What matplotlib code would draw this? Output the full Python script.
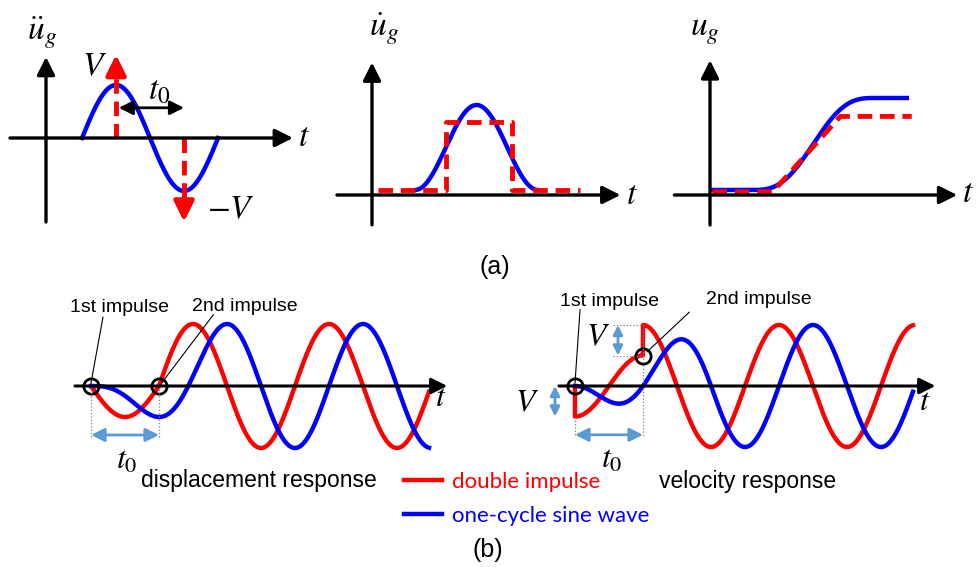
import numpy as np
import matplotlib.pyplot as plt

plt.rcParams['mathtext.fontset'] = 'stix'
plt.rcParams['font.family'] = ['Liberation Sans', 'DejaVu Sans']

# ---- values (time in natural periods T) ----
T = 1.0                 # natural period of the structure
t0 = 0.5 * T            # interval between the two impulses
V = 0.5                 # impulse velocity (steady amplitude = 2V)
sine_start = 0.265      # start of the one-cycle sine in (a) acceleration
vel_start = 0.35        # start of the velocity bell in (a)
rect_edges = [0.05, 0.6, 1.14, 1.69]    # double impulse velocity: step times
rect_height = 0.8
disp_start = 0.34       # start of the S-shaped displacement in (a)
ramp = [0.02, 0.51, 1.06, 1.64]         # double impulse displacement: knots
ramp_level = 0.80
resp_end = 2.485        # end of response curves in (b), in T

labels = ['double impulse', 'one-cycle sine wave']

BLUE = '#0000ff'
RED = '#ff0000'
LBLUE = '#5b9bd5'
W, H = 977, 567
fig = plt.figure(figsize=(W / 100, H / 100), dpi=100)


def panel(ox, oy, sx, sy, box):
    l, t, r, b = box
    ax = fig.add_axes([l / W, 1 - b / H, (r - l) / W, (b - t) / H])
    ax.set_xlim((l - ox) / sx, (r - ox) / sx)
    ax.set_ylim((oy - b) / sy, (oy - t) / sy)
    ax.axis('off')
    return ax


def arrow(ax, start, end, color='k', lw=2.4, ms=18, style='-|>,head_length=0.6,head_width=0.3'):
    ax.annotate('', xy=end, xytext=start,
                arrowprops=dict(arrowstyle=style, color=color, lw=lw,
                                shrinkA=0, shrinkB=0, mutation_scale=ms))


def red_dash_arrow(ax, x, y_end, head):
    ax.plot([x, x], [0, y_end - head], color=RED, lw=3.5, dashes=(3, 1.6), clip_on=False)
    arrow(ax, (x, y_end - head * 1.05), (x, y_end), color=RED, lw=3.5, ms=20)


def math(ax, x, y, s, size=24, **kw):
    ax.text(x, y, s, fontsize=size, ha='center', va='center', **kw)


DBL = '<|-|>,head_length=0.8,head_width=0.4'

# ---------------- (a) acceleration ----------------
ax1 = panel(46, 138, 136, 53, (0, 20, 320, 235))
tau = np.linspace(0, 1, 300)
arrow(ax1, (-0.265, 0), (1.816, 0))
arrow(ax1, (0, -1.585), (0, 1.53))
ax1.plot(sine_start + tau * T, np.sin(2 * np.pi * tau), color=BLUE, lw=3.2, clip_on=False)
red_dash_arrow(ax1, sine_start + 0.25 * T, 1.57, 0.22)
red_dash_arrow(ax1, sine_start + 0.75 * T, -1.58, -0.22)
arrow(ax1, (sine_start + 0.27 * T, 0.57), (sine_start + 0.75 * T, 0.57), lw=2,
      ms=14, style='<|-|>,head_length=0.6,head_width=0.3')
math(ax1, 0.36, 1.34, r'$V$')
math(ax1, 1.36, -1.36, r'$-V$')
math(ax1, 0.83, 0.88, r'$t_0$')
math(ax1, 1.9, 0.0, r'$t$')
math(ax1, -0.03, 1.98, r'$\ddot{u}_g$')

# ---------------- (a) velocity ----------------
ax2 = panel(372, 190, 123, 85, (330, 20, 650, 235))
g2 = -5 / 85
arrow(ax2, (-0.285, g2), (2.02, g2))
arrow(ax2, (0, -0.41), (0, 1.5))
ax2.plot(vel_start + tau, (1 - np.cos(2 * np.pi * tau)) / 2, color=BLUE, lw=3.2, clip_on=False)
rx = [rect_edges[0], rect_edges[1], rect_edges[1], rect_edges[2], rect_edges[2], rect_edges[3]]
ry = [0, 0, rect_height, rect_height, 0, 0]
ax2.plot(rx, ry, color=RED, lw=3.5, dashes=(3, 1.6), clip_on=False)
math(ax2, 2.11, g2, r'$t$')
math(ax2, 0.1, 1.9, r'$\dot{u}_g$')

# ---------------- (a) displacement ----------------
ax3 = panel(710, 190, 123, 92, (660, 20, 977, 235))
g3 = -5 / 92
arrow(ax3, (-0.29, g3), (2.01, g3))
arrow(ax3, (0, -0.38), (0, 1.41))
s_curve = tau - np.sin(2 * np.pi * tau) / (2 * np.pi)
bx = np.concatenate([[0.02], disp_start + tau, [1.6]])
by = np.concatenate([[0], s_curve, [1]])
ax3.plot(bx, by, color=BLUE, lw=3.2, clip_on=False)
ax3.plot(ramp, [-0.02, -0.02, ramp_level, ramp_level], color=RED, lw=3.5,
         dashes=(3, 1.6), clip_on=False)
math(ax3, 2.1, g3 + 0.02, r'$t$')
math(ax3, -0.04, 1.72, r'$u_g$')

# ---------------- (b) responses ----------------
tt = np.linspace(0, resp_end, 1500)
w = 2 * np.pi / T
disp_red = np.where(tt < t0, -V * np.sin(w * tt), -2 * V * np.sin(w * tt))
disp_blue = np.where(tt < T, (w * tt * np.cos(w * tt) - np.sin(w * tt)) / (2 * np.pi),
                     np.cos(w * (tt - T)))
vel_red = np.where(tt < t0, -V * np.cos(w * tt), -2 * V * np.cos(w * tt))
vel_blue = np.where(tt < T, -tt * np.sin(w * tt), -np.sin(w * (tt - T)))

axL = panel(91, 386, 136, 62, (55, 285, 460, 505))
axR = panel(575, 386, 136, 61, (500, 285, 977, 505))

# displacement
arrow(axL, (-0.118, 0), (2.62, 0), lw=2.2, ms=16)
hr, = axL.plot(tt, disp_red, color=RED, lw=3.2, clip_on=False, label=labels[0])
hb, = axL.plot(tt, disp_blue, color=BLUE, lw=3.2, clip_on=False, label=labels[1])
axL.plot([0, t0], [0, 0], 'o', ms=11, mfc='none', mec='k', mew=2, clip_on=False)
for x in (0, t0):
    axL.plot([x, x], [0, -0.83], ':', color='#808080', lw=0.9)
arrow(axL, (0, -0.79), (t0, -0.79), color=LBLUE, lw=2, ms=10, style=DBL)
axL.plot([0.0, 0.088], [0.05, 1.11], color='k', lw=0.8)
axL.plot([0.52, 0.9], [0.05, 1.15], color='k', lw=0.8)
axL.text(0.21, 1.26, '1st impulse', fontsize=14, ha='center', va='center')
axL.text(1.13, 1.28, '2nd impulse', fontsize=14, ha='center', va='center')
math(axL, 0.265, -1.2, r'$t_0$', size=23)
math(axL, 2.57, -0.2, r'$t$', size=23)
axL.text(1.235, -1.53, 'displacement response', fontsize=16.5, ha='center', va='center')

# velocity
arrow(axR, (-0.118, 0), (2.65, 0), lw=2.2, ms=16)
vx = np.concatenate([[0], tt])
axR.plot(vx, np.concatenate([[0], vel_red]), color=RED, lw=3.2, clip_on=False)
axR.plot(tt, vel_blue, color=BLUE, lw=3.2, clip_on=False)
axR.plot([0, t0], [0, V], 'o', ms=11, mfc='none', mec='k', mew=2, clip_on=False)
axR.plot([0, 0], [-V, -0.84], ':', color='#808080', lw=0.9)
axR.plot([t0, t0], [2 * V, -0.84], ':', color='#808080', lw=0.9)
axR.plot([0.28, t0], [2 * V, 2 * V], ':', color='#808080', lw=0.9)
axR.plot([0.28, t0], [V, V], ':', color='#808080', lw=0.9)
arrow(axR, (0.316, V), (0.316, 2 * V), color=LBLUE, lw=2, ms=7, style=DBL)
arrow(axR, (-0.147, 0), (-0.147, -V), color=LBLUE, lw=2, ms=7, style=DBL)
arrow(axR, (0, -0.8), (t0, -0.8), color=LBLUE, lw=2, ms=10, style=DBL)
axR.plot([0.0, 0.037], [0.05, 1.25], color='k', lw=0.8)
axR.plot([0.53, 0.84], [0.56, 1.21], color='k', lw=0.8)
axR.text(0.257, 1.38, '1st impulse', fontsize=14, ha='center', va='center')
axR.text(1.35, 1.41, '2nd impulse', fontsize=14, ha='center', va='center')
math(axR, 0.17, 0.8, r'$V$', size=23)
math(axR, -0.35, -0.28, r'$V$', size=23)
math(axR, 0.27, -1.21, r'$t_0$', size=23)
math(axR, 2.57, -0.26, r'$t$', size=23)
axR.text(1.27, -1.56, 'velocity response', fontsize=16.5, ha='center', va='center')

fig.legend(handles=[hr, hb], loc='upper left', bbox_to_anchor=(384 / W, 1 - 452 / H),
           frameon=False, handlelength=1.7, handletextpad=0.45, labelspacing=0.62,
           labelcolor='linecolor', prop={'family': 'Lato', 'size': 16})
fig.text(495 / W, 1 - 267 / H, '(a)', fontsize=18, ha='center', va='center')
fig.text(488 / W, 1 - 550 / H, '(b)', fontsize=18, ha='center', va='center')

fig.savefig('out.png', dpi=100)
